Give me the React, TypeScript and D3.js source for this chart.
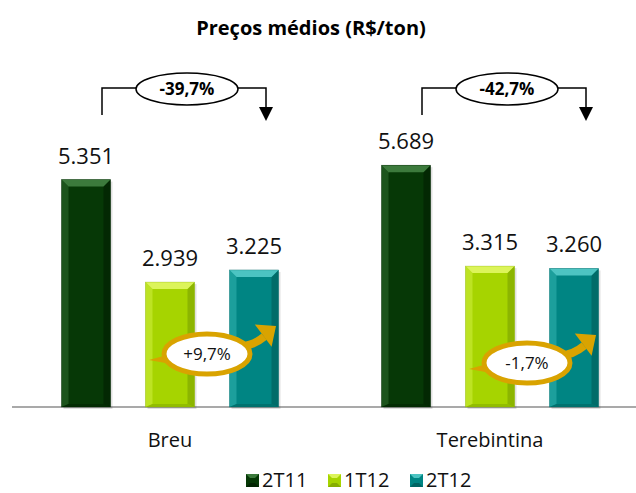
import React from "react";
import * as d3 from "d3";

const categories = ["Breu", "Terebintina"];
const series = ["2T11", "1T12", "2T12"];
const values2T11 = [5351, 5689];
const values1T12 = [2939, 3315];
const values2T12 = [3225, 3260];
const yearChanges = ["-39,7%", "-42,7%"];
const quarterChanges = ["+9,7%", "-1,7%"];

const W = 636;
const H = 493;
const baseY = 407;
const FONT = "'Open Sans', 'DejaVu Sans', sans-serif";

const colors: Record<string, { body: string; light: string; dark: string; top: string }> = {
  "2T11": { body: "#063806", light: "#2c682c", dark: "#022402", top: "#3c7a3c" },
  "1T12": { body: "#a6d400", light: "#cdec3a", dark: "#86ad00", top: "#dcf45a" },
  "2T12": { body: "#008583", light: "#2fb0ae", dark: "#006563", top: "#4cc4c2" },
};

const fmt = (v: number) => d3.format(",")(v).replace(/,/g, ".");

// orange arrow vertical offsets per group
const quarterY = [354, 363];

function Bar({ x, y, w, h, s }: { x: number; y: number; w: number; h: number; s: string }) {
  const c = colors[s];
  const b = Math.min(7, h / 3);
  return (
    <g>
      <rect x={x + 2} y={y + 2} width={w} height={h} fill="#000" opacity={0.12} />
      <rect x={x} y={y} width={w} height={h} fill={c.body} />
      <polygon points={`${x},${y} ${x + b},${y + b} ${x + b},${y + h - 3} ${x},${y + h}`} fill={c.light} opacity={0.6} />
      <polygon points={`${x + w},${y} ${x + w - b},${y + b} ${x + w - b},${y + h - 3} ${x + w},${y + h}`} fill={c.dark} opacity={0.8} />
      <polygon points={`${x},${y} ${x + w},${y} ${x + w - b},${y + b} ${x + b},${y + b}`} fill={c.top} />
      <polygon points={`${x},${y + h} ${x + w},${y + h} ${x + w - b},${y + h - 3} ${x + b},${y + h - 3}`} fill={c.dark} opacity={0.6} />
      <rect x={x} y={y} width={w} height={h} fill="none" stroke={c.dark} strokeWidth={0.6} opacity={0.5} />
    </g>
  );
}

function QuarterArrow({ cx, cy, label }: { cx: number; cy: number; label: string }) {
  const orange = "#d9a300";
  const tip: [number, number] = [cx + 69, cy - 28];
  const ang = Math.atan2(-0.75, 1);
  const hl = 16;
  const hw = 14;
  const bx = tip[0] - hl * Math.cos(ang);
  const by = tip[1] - hl * Math.sin(ang);
  const px = -Math.sin(ang);
  const py = Math.cos(ang);
  return (
    <g>
      <polygon points={`${cx - 58},${cy + 6} ${cx - 40},${cy + 1} ${cx - 36},${cy + 10}`} fill={orange} />
      <path d={`M${cx + 34},${cy - 8} Q${cx + 46},${cy - 8} ${bx + 1},${by + 1}`} fill="none" stroke={orange} strokeWidth={8} />
      <polygon
        points={`${tip[0]},${tip[1]} ${bx + px * hw},${by + py * hw} ${bx - px * hw},${by - py * hw}`}
        fill={orange}
      />
      <ellipse cx={cx} cy={cy} rx={43} ry={20} fill="#fff" stroke={orange} strokeWidth={5} />
      <text x={cx} y={cy + 6} textAnchor="middle" fontFamily={FONT} fontSize={17} fill="#111">
        {label}
      </text>
    </g>
  );
}

function YearBracket({ x1, x2, label }: { x1: number; x2: number; label: string }) {
  const ly = 88;
  const ecx = x1 + 85;
  return (
    <g>
      <path d={`M${x1},115 V${ly} H${x2} V108`} fill="none" stroke="#000" strokeWidth={1.5} />
      <polygon points={`${x2 - 7},107 ${x2 + 7},107 ${x2},121`} fill="#000" />
      <ellipse cx={ecx} cy={89} rx={51} ry={16} fill="#fff" stroke="#000" strokeWidth={1.5} />
      <text x={ecx} y={95} textAnchor="middle" fontFamily={FONT} fontSize={17} fontWeight="bold">
        {label}
      </text>
    </g>
  );
}

export default function App() {
  const x0 = d3.scaleBand().domain(categories).range([10, 650]);
  const x1 = d3.scaleBand().domain(series).range([0, 252]).paddingInner(35 / 84).paddingOuter(35 / 168);
  const y = d3.scaleLinear().domain([0, 6000]).range([baseY, baseY - 255]);
  const seriesValues: Record<string, number[]> = { "2T11": values2T11, "1T12": values1T12, "2T12": values2T12 };
  const bw = x1.bandwidth();

  const groupLeft = (c: string) => (x0(c) as number) + x0.bandwidth() / 2 - 126;
  const barX = (c: string, s: string) => groupLeft(c) + (x1(s) as number);

  return (
    <svg width={W} height={H} style={{ position: "absolute", left: 0, top: 0, background: "#fff" }}>
      <text x={311} y={35} textAnchor="middle" fontFamily={FONT} fontSize={20} fontWeight="bold">
        Preços médios (R$/ton)
      </text>

      <line x1={12} x2={W} y1={baseY} y2={baseY} stroke="#8c8c8c" strokeWidth={1.5} />

      {categories.map((c, i) => (
        <g key={c}>
          {series.map((s) => {
            const v = seriesValues[s][i];
            const bx = barX(c, s);
            return (
              <g key={s}>
                <Bar x={bx} y={y(v)} w={bw} h={baseY - y(v)} s={s} />
                <text x={bx + bw / 2} y={y(v) - 16} textAnchor="middle" fontFamily={FONT} fontSize={22} fill="#111">
                  {fmt(v)}
                </text>
              </g>
            );
          })}
          <text x={(x0(c) as number) + x0.bandwidth() / 2} y={447} textAnchor="middle" fontFamily={FONT} fontSize={20} fill="#111">
            {c}
          </text>
          <YearBracket x1={barX(c, "2T11") + bw / 2 + 16} x2={barX(c, "2T12") + bw / 2 + 12} label={yearChanges[i]} />
          <QuarterArrow cx={barX(c, "1T12") + bw / 2 + 37} cy={quarterY[i]} label={quarterChanges[i]} />
        </g>
      ))}

      {series.map((s, i) => {
        const lx = 246 + i * 82;
        const c = colors[s];
        return (
          <g key={s}>
            <rect x={lx} y={474} width={13} height={13} fill={c.body} />
            <polygon points={`${lx},474 ${lx + 13},474 ${lx + 9},478 ${lx + 4},478`} fill={c.top} />
            <polygon points={`${lx},487 ${lx + 13},487 ${lx + 9},483 ${lx + 4},483`} fill={c.dark} />
            <text x={lx + 16} y={487} fontFamily={FONT} fontSize={20} fill="#111">
              {s}
            </text>
          </g>
        );
      })}
    </svg>
  );
}
